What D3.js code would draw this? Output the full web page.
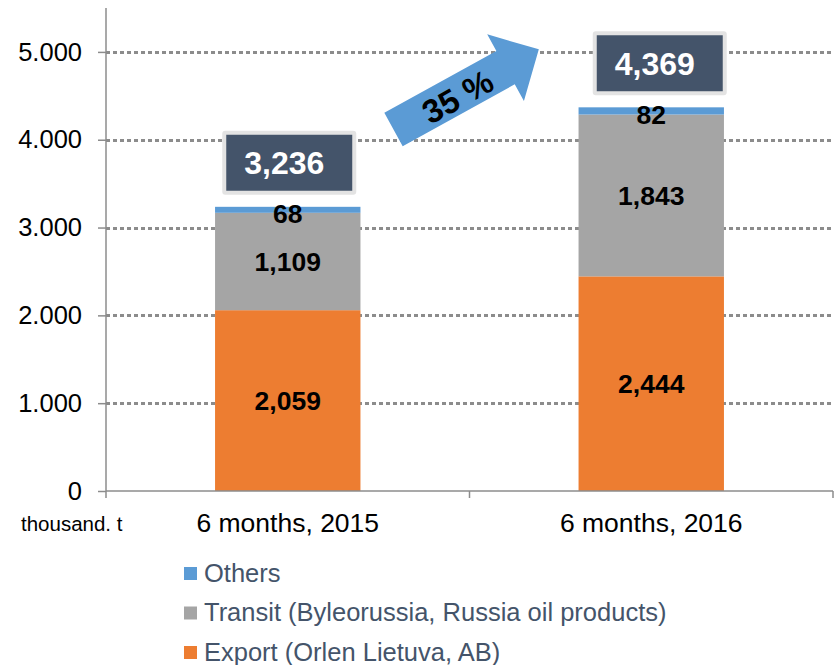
<!DOCTYPE html>
<html>
<head>
<meta charset="utf-8">
<script src="https://cdn.jsdelivr.net/npm/d3@7"></script>
<style>
  html, body { margin: 0; padding: 0; background: #fff; }
  svg { display: block; font-family: Arial, "Liberation Sans", sans-serif; }
</style>
</head>
<body>
<svg id="chart" width="834" height="665"></svg>
<script>
// ---- data ----
const categories = ["6 months, 2015", "6 months, 2016"];
const seriesNames = ["Export (Orlen Lietuva, AB)", "Transit (Byleorussia, Russia oil products)", "Others"];
const exportValues = [2059, 2444];
const transitValues = [1109, 1843];
const othersValues = [68, 82];
const totals = [3236, 4369];
const yTicks = [0, 1000, 2000, 3000, 4000, 5000];
const yTickLabels = ["0", "1.000", "2.000", "3.000", "4.000", "5.000"];
const growthLabel = "35 %";
const unitLabel = "thousand. t";

// ---- styles / layout ----
const FONT = "Arial, 'Liberation Sans', sans-serif";
const colors = { "Export (Orlen Lietuva, AB)": "#ED7D31", "Transit (Byleorussia, Russia oil products)": "#A5A5A5", "Others": "#5B9BD5" };
const svg = d3.select("#chart");
const mLeft = 106, mRight = 833, mTop = 8, mBottom = 491;

const y = d3.scaleLinear().domain([0, 5500]).range([mBottom, mTop]);
const x = d3.scaleBand().domain(categories).range([mLeft, mRight]).padding(0);
const barW = x.bandwidth() * 0.4;

// gridlines
svg.append("g").selectAll("line").data(yTicks.filter(d => d > 0)).join("line")
  .attr("x1", mLeft).attr("x2", mRight)
  .attr("y1", d => Math.round(y(d)) + 0.5).attr("y2", d => Math.round(y(d)) + 0.5)
  .attr("stroke", "#8c8c8c").attr("stroke-width", 3).attr("stroke-dasharray", "4,3");

// stacked data
const rows = categories.map((c, i) => ({
  cat: c,
  [seriesNames[0]]: exportValues[i],
  [seriesNames[1]]: transitValues[i],
  [seriesNames[2]]: othersValues[i]
}));
const stack = d3.stack().keys(seriesNames)(rows);

const barX = c => x(c) + (x.bandwidth() - barW) / 2;

svg.append("g").selectAll("g").data(stack).join("g")
  .attr("fill", s => colors[s.key])
  .selectAll("rect").data(s => s).join("rect")
  .attr("x", d => barX(d.data.cat))
  .attr("width", barW)
  .attr("y", d => y(d[1]))
  .attr("height", d => y(d[0]) - y(d[1]));

// segment labels
const segLabels = [];
stack.forEach((s, si) => s.forEach(d => {
  let cy = (y(d[0]) + y(d[1])) / 2;
  if (s.key === "Others") cy = y(d[1]) + 7;
  segLabels.push({ cat: d.data.cat, v: d[1] - d[0], cy });
}));
svg.append("g").selectAll("text").data(segLabels).join("text")
  .attr("x", d => x(d.cat) + x.bandwidth() / 2)
  .attr("y", d => d.cy)
  .attr("dy", "0.36em")
  .attr("text-anchor", "middle")
  .attr("font-family", FONT)
  .attr("font-size", 26.5).attr("font-weight", "bold").attr("fill", "#000")
  .text(d => d3.format(",")(d.v));

// axes
const yAxis = d3.axisLeft(y).tickValues(yTicks).tickSize(8).tickFormat((d, i) => yTickLabels[i]);
const gy = svg.append("g").attr("transform", `translate(${mLeft},0)`).call(yAxis);
gy.select(".domain").attr("stroke", "#8c8c8c").attr("stroke-width", 1.5).attr("d", `M-0,${mTop}V${mBottom}`);
gy.selectAll(".tick line").attr("stroke", "#8c8c8c").attr("stroke-width", 1.5);
gy.selectAll(".tick text").attr("font-size", 25.5).attr("fill", "#000").attr("x", -24)
  .attr("font-family", FONT);

const gx = svg.append("g").attr("transform", `translate(0,${mBottom})`);
gx.append("line").attr("x1", mLeft).attr("x2", mRight).attr("y1", 0).attr("y2", 0)
  .attr("stroke", "#8c8c8c").attr("stroke-width", 1.5);
const xTickPos = [mLeft, ...categories.map(c => x(c) + x.bandwidth())];
gx.selectAll("line.t").data(xTickPos).join("line").attr("class", "t")
  .attr("x1", d => d).attr("x2", d => d).attr("y1", 0).attr("y2", 7)
  .attr("stroke", "#8c8c8c").attr("stroke-width", 1.5);
gx.selectAll("text.c").data(categories).join("text").attr("class", "c")
  .attr("x", d => x(d) + x.bandwidth() / 2).attr("y", 41)
  .attr("text-anchor", "middle").attr("font-size", 26.5).attr("fill", "#000")
  .attr("font-family", FONT)
  .text(d => d);
svg.append("text").attr("x", 21).attr("y", 531)
  .attr("font-size", 20.5).attr("fill", "#000").attr("font-family", FONT).text(unitLabel);

// total boxes
const boxOffsets = [1.5, 8.5];
const boxW = 130, boxH = 60;
const boxes = svg.append("g").selectAll("g").data(categories).join("g")
  .attr("transform", (c, i) => {
    const cx = x(c) + x.bandwidth() / 2 + boxOffsets[i];
    const by = y(totals[i]) - 14 - boxH;
    return `translate(${cx - boxW / 2},${by})`;
  });
boxes.append("rect").attr("x", 0).attr("y", 0).attr("width", boxW).attr("height", boxH)
  .attr("fill", "#44546A").attr("stroke", "#e3e3e3").attr("stroke-width", 4).attr("rx", 1);
boxes.append("text").attr("x", boxW / 2 - 5).attr("y", boxH / 2).attr("dy", "0.36em")
  .attr("text-anchor", "middle").attr("font-size", 32).attr("font-weight", "bold").attr("fill", "#fff")
  .attr("font-family", FONT)
  .text((c, i) => d3.format(",")(totals[i]));

// growth arrow
const shaftLen = 128, headLen = 38, shaftW = 38, headW = 76;
const arrowPts = [
  [0, -shaftW / 2], [shaftLen, -shaftW / 2], [shaftLen, -headW / 2], [shaftLen + headLen, 0],
  [shaftLen, headW / 2], [shaftLen, shaftW / 2], [0, shaftW / 2]
];
const arrow = svg.append("g").attr("transform", "translate(393.5,129.5) rotate(-28.9)");
arrow.append("path").attr("d", d3.line()(arrowPts) + "Z").attr("fill", "#5B9BD5");
arrow.append("text").attr("x", 72).attr("y", 2).attr("dy", "0.36em").attr("text-anchor", "middle")
  .attr("font-family", FONT)
  .attr("font-size", 33).attr("font-weight", "bold").attr("fill", "#000").text(growthLabel);

// legend (Others, Transit, Export from top)
const legendOrder = [seriesNames[2], seriesNames[1], seriesNames[0]];
const lg = svg.append("g").selectAll("g").data(legendOrder).join("g")
  .attr("transform", (d, i) => `translate(184,${572.5 + i * 39.5})`);
lg.append("rect").attr("x", 0).attr("y", -5.5).attr("width", 13).attr("height", 13).attr("fill", d => colors[d]);
lg.append("text").attr("x", 20).attr("y", 0).attr("dy", "0.36em").attr("font-size", 25.5)
  .attr("font-family", FONT).attr("fill", "#44546A").text(d => d);
</script>
</body>
</html>
